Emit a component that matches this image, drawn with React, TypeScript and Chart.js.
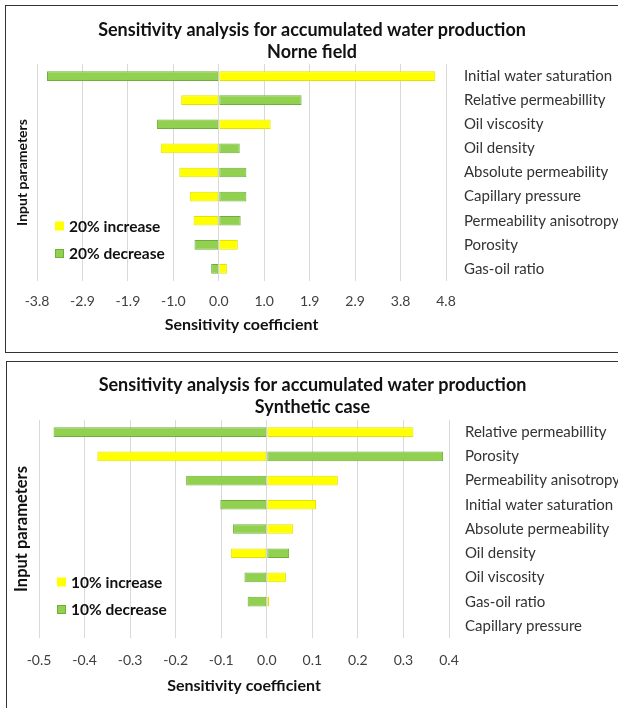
import React, { useEffect, useRef } from "react";
import { Chart, registerables } from "chart.js";

Chart.register(...registerables);

// ---------- DATA ----------
const norneCategories = [
  "Initial water saturation",
  "Relative permeabillity",
  "Oil viscosity",
  "Oil density",
  "Absolute permeability",
  "Capillary pressure",
  "Permeability anisotropy",
  "Porosity",
  "Gas-oil ratio",
];
const norneIncrease = [4.55, -0.79, 1.09, -1.22, -0.83, -0.61, -0.53, 0.4, 0.17];
const norneDecrease = [-3.61, 1.74, -1.3, 0.44, 0.58, 0.58, 0.46, -0.51, -0.16];
const norneTickValues = [-3.82, -2.865, -1.91, -0.955, 0, 0.955, 1.91, 2.865, 3.82, 4.775];
const norneTickLabels = ["-3.8", "-2.9", "-1.9", "-1.0", "0.0", "1.0", "1.9", "2.9", "3.8", "4.8"];

const synthCategories = [
  "Relative permeabillity",
  "Porosity",
  "Permeability anisotropy",
  "Initial water saturation",
  "Absolute permeability",
  "Oil density",
  "Oil viscosity",
  "Gas-oil ratio",
  "Capillary pressure",
];
const synthIncrease = [0.322, -0.372, 0.156, 0.108, 0.058, -0.079, 0.042, 0.005, 0];
const synthDecrease = [-0.468, 0.387, -0.177, -0.102, -0.074, 0.049, -0.049, -0.042, 0];
const synthTickValues = [-0.5, -0.4, -0.3, -0.2, -0.1, 0, 0.1, 0.2, 0.3, 0.4];
const synthTickLabels = ["-0.5", "-0.4", "-0.3", "-0.2", "-0.1", "0.0", "0.1", "0.2", "0.3", "0.4"];

// ---------- STYLE ----------
const FONT = "Lato";
const YELLOW = "#FFFF00";
const YELLOW_BORDER = "#E3E300";
const GREEN = "#92D050";
const GREEN_BORDER = "#6FAE3C";

const inPlotLegend = {
  id: "inPlotLegend",
  afterDraw(chart: any, _args: any, opts: any) {
    const { ctx, chartArea } = chart;
    ctx.save();
    chart.data.datasets.forEach((ds: any, i: number) => {
      const x = chartArea.left + opts.x;
      const y = chartArea.top + opts.y + i * opts.gap;
      ctx.fillStyle = ds.backgroundColor;
      ctx.fillRect(x, y - 4.5, 9, 9);
      if (i === 1) {
        ctx.strokeStyle = ds.borderColor;
        ctx.lineWidth = 1;
        ctx.strokeRect(x + 0.5, y - 4, 8, 8);
      }
      ctx.fillStyle = "#111";
      ctx.font = `bold ${opts.fontSize}px ${FONT}`;
      ctx.textBaseline = "middle";
      ctx.textAlign = "left";
      ctx.fillText(ds.label, x + 14, y + 0.5);
    });
    ctx.restore();
  },
};

type Spec = {
  subtitle: string;
  categories: string[];
  increase: number[];
  decrease: number[];
  incLabel: string;
  decLabel: string;
  tickValues: number[];
  tickLabels: string[];
  width: number;
  height: number;
  leftW: number;
  rightW: number;
  yTitlePad: number;
  yTitleSize: number;
  titlePadTop: number;
  xAxisH: number;
  bottomPad: number;
  tickPad: number;
  catPad: number;
};

function TornadoChart({ spec }: { spec: Spec }) {
  const ref = useRef<HTMLCanvasElement>(null);
  useEffect(() => {
    if (!ref.current) return;
    const tv = spec.tickValues;
    const chart = new Chart(ref.current, {
      type: "bar",
      data: {
        labels: spec.categories,
        datasets: [
          {
            label: spec.incLabel,
            data: spec.increase,
            backgroundColor: YELLOW,
            borderColor: YELLOW_BORDER,
            borderWidth: 1,
            borderSkipped: false,
            barPercentage: 0.4,
            categoryPercentage: 1,
          },
          {
            label: spec.decLabel,
            data: spec.decrease,
            backgroundColor: GREEN,
            borderColor: GREEN_BORDER,
            borderWidth: 1,
            borderSkipped: false,
            barPercentage: 0.4,
            categoryPercentage: 1,
          },
        ],
      },
      plugins: [inPlotLegend as any],
      options: {
        indexAxis: "y",
        responsive: false,
        animation: false,
        devicePixelRatio: 1,
        layout: { padding: { left: 0, right: 0, top: 0, bottom: spec.bottomPad } },
        plugins: {
          legend: { display: false },
          tooltip: { enabled: false },
          title: {
            display: true,
            text: ["Sensitivity analysis for accumulated water production", spec.subtitle],
            color: "#111",
            font: { family: FONT, size: 18, weight: "bold", lineHeight: 22 / 18 },
            padding: { top: spec.titlePadTop, bottom: 14 - spec.titlePadTop },
          },
          inPlotLegend: { x: 18, y: 162, gap: 27.5, fontSize: 15.5 },
        } as any,
        scales: {
          x: {
            type: "linear",
            stacked: true,
            min: tv[0],
            max: tv[tv.length - 1],
            afterBuildTicks: (scale: any) => {
              scale.ticks = tv.map((v) => ({ value: v }));
            },
            ticks: {
              padding: spec.tickPad,
              color: "#404040",
              font: { family: FONT, size: 14 },
              callback: (_v: any, i: number) => spec.tickLabels[i],
              maxRotation: 0,
              autoSkip: false,
            },
            grid: { color: "#D9D9D9", lineWidth: 1, drawTicks: false },
            border: { display: false },
            title: {
              display: true,
              text: "Sensitivity coefficient",
              color: "#111",
              font: { family: FONT, size: 16, weight: "bold" },
              padding: { top: 0, bottom: 0 },
            },
            afterFit: (scale: any) => {
              scale.height = spec.xAxisH;
            },
          },
          y: {
            type: "category",
            position: "right",
            stacked: true,
            grid: { display: false, drawTicks: false },
            border: { display: false },
            ticks: {
              padding: spec.catPad,
              color: "#333",
              font: { family: FONT, size: 15 },
            },
            afterFit: (scale: any) => {
              scale.width = spec.rightW;
            },
          },
          y2: {
            type: "category",
            position: "left",
            grid: { display: false, drawTicks: false },
            border: { display: false },
            ticks: { display: false },
            title: {
              display: true,
              text: "Input parameters",
              color: "#111",
              font: { family: FONT, size: spec.yTitleSize, weight: "bold" },
              padding: { top: spec.yTitlePad, bottom: 0 },
            },
            afterFit: (scale: any) => {
              scale.width = spec.leftW;
            },
          },
        } as any,
      },
    });
    return () => chart.destroy();
  }, [spec]);
  return (
    <canvas
      ref={ref}
      width={spec.width}
      height={spec.height}
      style={{ width: spec.width, height: spec.height, display: "block" }}
    />
  );
}

const norneSpec: Spec = {
  subtitle: "Norne field",
  categories: norneCategories,
  increase: norneIncrease,
  decrease: norneDecrease,
  incLabel: "20% increase",
  decLabel: "20% decrease",
  tickValues: norneTickValues,
  tickLabels: norneTickLabels,
  width: 612,
  height: 346,
  leftW: 31,
  rightW: 172,
  yTitlePad: 8,
  yTitleSize: 14,
  titlePadTop: 13,
  xAxisH: 53.4,
  bottomPad: 17.6,
  tickPad: 12,
  catPad: 18,
};

const synthSpec: Spec = {
  subtitle: "Synthetic case",
  categories: synthCategories,
  increase: synthIncrease,
  decrease: synthDecrease,
  incLabel: "10% increase",
  decLabel: "10% decrease",
  tickValues: synthTickValues,
  tickLabels: synthTickLabels,
  width: 611,
  height: 346,
  leftW: 32,
  rightW: 169,
  yTitlePad: 4.5,
  yTitleSize: 16.5,
  titlePadTop: 12,
  xAxisH: 57.4,
  bottomPad: 12.6,
  tickPad: 14,
  catPad: 16,
};

export default function App() {
  useEffect(() => {
    document.body.style.margin = "0";
    document.body.style.overflow = "hidden";
  }, []);
  return (
    <div
      style={{
        position: "fixed",
        left: 0,
        top: 0,
        width: 618,
        height: 708,
        overflow: "hidden",
        background: "#fff",
      }}
    >
      <div
        style={{
          position: "absolute",
          left: 5,
          top: 5,
          width: 700,
          height: 346,
          border: "1px solid #333",
        }}
      >
        <TornadoChart spec={norneSpec} />
      </div>
      <div
        style={{
          position: "absolute",
          left: 6,
          top: 361,
          width: 700,
          height: 400,
          border: "1px solid #333",
        }}
      >
        <TornadoChart spec={synthSpec} />
      </div>
    </div>
  );
}
